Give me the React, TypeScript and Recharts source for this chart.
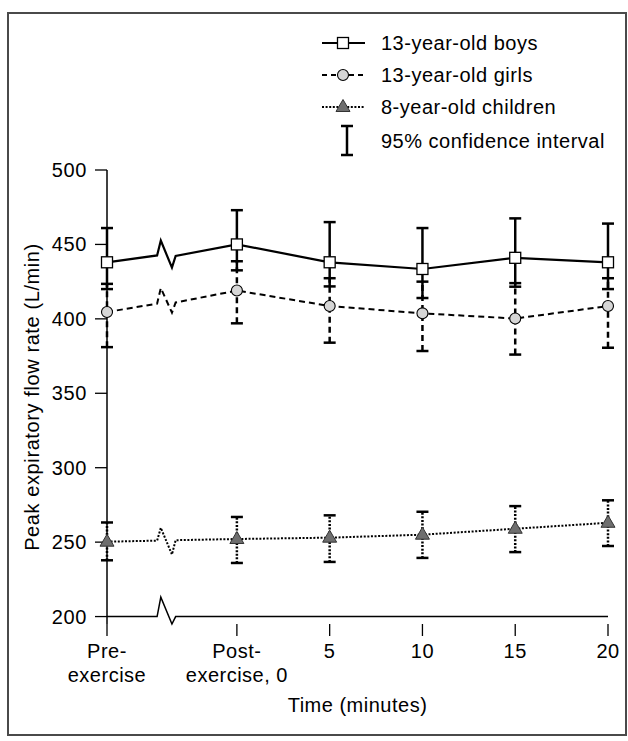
import React from 'react';
import { LineChart, Line, XAxis, YAxis, ErrorBar, Legend, Label } from 'recharts';

// ---- data ----
const timePoints = [-7, 0, 5, 10, 15, 20];
const xTickLabels = [['Pre-', 'exercise'], ['Post-', 'exercise, 0'], ['5'], ['10'], ['15'], ['20']];
const yTicks = [200, 250, 300, 350, 400, 450, 500];
const xTitle = 'Time (minutes)';
const yTitle = 'Peak expiratory flow rate (L/min)';

const seriesNames = ['13-year-old boys', '13-year-old girls', '8-year-old children'];
const ciName = '95% confidence interval';

const boysMean = [438, 450, 438, 433.5, 441, 438];
const boysLow = [420, 432.6, 421.8, 414, 421.6, 420];
const boysHigh = [461, 473, 465, 461, 467.5, 464];

const girlsMean = [404.6, 419, 408.6, 403.7, 400.2, 408.6];
const girlsLow = [381, 397, 384, 378.4, 376, 380.6];
const girlsHigh = [423.5, 438.7, 427.3, 425, 424, 427.3];

const childMean = [250.3, 252.1, 253, 255, 259, 263];
const childLow = [237.8, 236, 236.7, 239.4, 243.3, 247.4];
const childHigh = [263.2, 266.9, 268, 270.4, 274.2, 278.1];

// axis-break zigzag (between Pre-exercise and Post-exercise)
const breakX = [-4.3, -4.1, -3.5, -3.3];
const boysBreak = [442.6, 452.6, 434.4, 442.3];
const girlsBreak = [410.2, 420.7, 404.2, 411];
const childBreak = [251, 259.6, 241.7, 251.3];
const axisBreak = [200, 213, 195, 200];
const axisEnds = [-7, 20];
const axisBase = 200;

const FONT = '"Liberation Sans", Arial, Helvetica, sans-serif';

function buildSeries(mean: number[], low: number[], high: number[], brk: number[]) {
  const pts = timePoints.map((t, i) => ({
    x: t,
    y: mean[i],
    err: [mean[i] - low[i], high[i] - mean[i]],
    real: true,
  }));
  const br = breakX.map((t, i) => ({ x: t, y: brk[i], real: false }));
  return [pts[0], ...br, ...pts.slice(1)];
}

const boysData = buildSeries(boysMean, boysLow, boysHigh, boysBreak);
const girlsData = buildSeries(girlsMean, girlsLow, girlsHigh, girlsBreak);
const childData = buildSeries(childMean, childLow, childHigh, childBreak);
const axisData = [
  { x: axisEnds[0], y: axisBase },
  ...breakX.map((t, i) => ({ x: t, y: axisBreak[i] })),
  { x: axisEnds[1], y: axisBase },
];

const SquareDot = (props: any) => {
  const { cx, cy, payload, index } = props;
  if (!payload || !payload.real || cx == null) return <g key={`s${index}`} />;
  return <rect key={`s${index}`} x={cx - 5.5} y={cy - 5.5} width={11} height={11} fill="#fff" stroke="#000" strokeWidth={1.3} />;
};
const CircleDot = (props: any) => {
  const { cx, cy, payload, index } = props;
  if (!payload || !payload.real || cx == null) return <g key={`c${index}`} />;
  return <circle key={`c${index}`} cx={cx} cy={cy} r={5.5} fill="#d6d6d6" stroke="#000" strokeWidth={1.1} />;
};
const TriDot = (props: any) => {
  const { cx, cy, payload, index } = props;
  if (!payload || !payload.real || cx == null) return <g key={`t${index}`} />;
  const p = `${cx},${cy - 7.5} ${cx + 7},${cy + 4.5} ${cx - 7},${cy + 4.5}`;
  return <polygon key={`t${index}`} points={p} fill="#6e6e6e" stroke="#333" strokeWidth={1} />;
};

const XTick = (props: any) => {
  const { x, y, payload } = props;
  const idx = timePoints.indexOf(payload.value);
  const lines = idx >= 0 ? xTickLabels[idx] : [String(payload.value)];
  return (
    <g>
      {lines.map((l, i) => (
        <text key={i} x={x} y={y + 20 + i * 24} textAnchor="middle" fontFamily={FONT} fontSize={20} letterSpacing={0.5} fill="#000">
          {l}
        </text>
      ))}
    </g>
  );
};

const YTick = (props: any) => {
  const { x, y, payload } = props;
  return (
    <text x={x} y={y + 7} textAnchor="end" fontFamily={FONT} fontSize={20} letterSpacing={0.6} fill="#000">
      {payload.value}
    </text>
  );
};

const LegendContent = () => {
  const rows = [43, 75, 107];
  const x1 = 322, x2 = 365, mx = 343, tx = 381;
  return (
    <svg width={628} height={170} style={{ display: 'block' }}>
      <line x1={x1} y1={rows[0]} x2={x2} y2={rows[0]} stroke="#000" strokeWidth={2} />
      <rect x={mx - 5.5} y={rows[0] - 5.5} width={11} height={11} fill="#fff" stroke="#000" strokeWidth={1.3} />
      <line x1={x1} y1={rows[1]} x2={x2} y2={rows[1]} stroke="#000" strokeWidth={2} strokeDasharray="5 4" />
      <circle cx={mx} cy={rows[1]} r={5.5} fill="#d6d6d6" stroke="#000" strokeWidth={1.1} />
      <line x1={x1} y1={rows[2]} x2={x2} y2={rows[2]} stroke="#000" strokeWidth={2} strokeDasharray="2 1.6" />
      <polygon points={`${mx},${rows[2] - 7.5} ${mx + 7},${rows[2] + 4.5} ${mx - 7},${rows[2] + 4.5}`} fill="#6e6e6e" stroke="#333" strokeWidth={1} />
      <line x1={347} y1={126} x2={347} y2={155} stroke="#000" strokeWidth={2.5} />
      <line x1={341} y1={126} x2={353} y2={126} stroke="#000" strokeWidth={2.5} />
      <line x1={341} y1={155} x2={353} y2={155} stroke="#000" strokeWidth={2.5} />
      {seriesNames.map((n, i) => (
        <text key={n} x={tx} y={rows[i] + 7} fontFamily={FONT} fontSize={20} letterSpacing={0.5} fill="#000">
          {n}
        </text>
      ))}
      <text x={tx} y={148} fontFamily={FONT} fontSize={20} letterSpacing={0.5} fill="#000">
        {ciName}
      </text>
    </svg>
  );
};

const YTitle = (props: any) => {
  const vb = props.viewBox || { x: 47, y: 170, width: 60, height: 454 };
  const cx = vb.x - 8.5;
  const cy = vb.y + vb.height / 2;
  return (
    <text x={cx} y={cy} transform={`rotate(-90, ${cx}, ${cy})`} textAnchor="middle" fontFamily={FONT} fontSize={20} letterSpacing={0.6} fill="#000">
      {yTitle}
    </text>
  );
};

const XTitle = (props: any) => {
  const vb = props.viewBox || { x: 107, y: 624, width: 501, height: 60 };
  return (
    <text x={vb.x + vb.width / 2} y={vb.y + 88} textAnchor="middle" fontFamily={FONT} fontSize={20} letterSpacing={0.5} fill="#000">
      {xTitle}
    </text>
  );
};

export default function App() {
  return (
    <div style={{ position: 'absolute', left: 0, top: 0, width: 628, height: 741, background: '#fff' }}>
      <style>{'.recharts-errorBar line:nth-child(1), .recharts-errorBar line:nth-child(3){stroke-dasharray:none !important;}'}</style>
      <div
        style={{
          position: 'absolute',
          left: 7,
          top: 12,
          width: 620,
          height: 724,
          border: '2px solid #4a4a4a',
          boxSizing: 'border-box',
        }}
      />
      <div style={{ position: 'absolute', left: 0, top: 0 }}>
        <LineChart width={628} height={741} margin={{ top: 170, right: 20, bottom: 57, left: 47 }}>
          <XAxis
            type="number"
            dataKey="x"
            domain={[-7, 20]}
            ticks={timePoints}
            axisLine={false}
            tickLine={{ stroke: '#000', strokeWidth: 1.3 }}
            tickSize={12}
            tick={<XTick />}
            height={60}
            interval={0}
          >
            <Label content={<XTitle />} />
          </XAxis>
          <YAxis
            type="number"
            domain={() => [200, 500]}
            ticks={yTicks}
            axisLine={{ stroke: '#000', strokeWidth: 1.5 }}
            tickLine={{ stroke: '#000', strokeWidth: 1.3 }}
            tickSize={12}
            tickMargin={8}
            tick={<YTick />}
            width={60}
            interval={0}
          >
            <Label content={<YTitle />} />
          </YAxis>
          <Legend layout="vertical" align="center" verticalAlign="middle" content={<LegendContent />} wrapperStyle={{ left: 0, top: 0, width: 628, height: 170 }} />
          <Line data={axisData} dataKey="y" stroke="#000" strokeWidth={1.5} dot={false} isAnimationActive={false} legendType="none" />
          <Line data={childData} dataKey="y" name={seriesNames[2]} stroke="#000" strokeWidth={2} strokeDasharray="2 1.6" dot={<TriDot />} isAnimationActive={false}>
            <ErrorBar dataKey="err" direction="y" width={6} stroke="#000" strokeWidth={2.5} strokeDasharray="2 1.6" />
          </Line>
          <Line data={girlsData} dataKey="y" name={seriesNames[1]} stroke="#000" strokeWidth={2} strokeDasharray="6 4" dot={<CircleDot />} isAnimationActive={false}>
            <ErrorBar dataKey="err" direction="y" width={6} stroke="#000" strokeWidth={2.5} strokeDasharray="6 4" />
          </Line>
          <Line data={boysData} dataKey="y" name={seriesNames[0]} stroke="#000" strokeWidth={2.2} dot={<SquareDot />} isAnimationActive={false}>
            <ErrorBar dataKey="err" direction="y" width={6} stroke="#000" strokeWidth={2.5} />
          </Line>
        </LineChart>
      </div>
    </div>
  );
}
